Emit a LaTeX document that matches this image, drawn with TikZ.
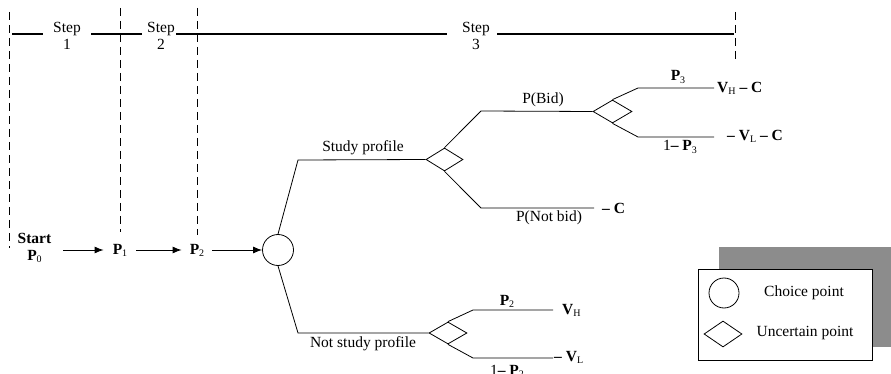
\documentclass[tikz,border=0pt]{standalone}
\usepackage{fontspec}
\setmainfont{Liberation Serif}
\usetikzlibrary{shapes.geometric,arrows.meta}
% small upright subscript used after bold letters
\newcommand{\lsub}[1]{\raisebox{-0.3ex}{\fontsize{10}{10}\selectfont\mdseries #1}}
\begin{document}
\begin{tikzpicture}[x=1pt,y=-1pt,
  txt/.style={font=\fontsize{15.5}{17}\selectfont, inner sep=0pt, align=center},
  bf/.style={txt, font=\fontsize{15.5}{17}\selectfont\bfseries},
  branch/.style={line width=0.8pt},
  guide/.style={line width=0.8pt, dash pattern=on 8pt off 5pt},
  stepline/.style={line width=1.2pt},
  flow/.style={line width=0.9pt, -{Latex[length=9pt,width=7pt]}},
  choice/.style={circle, draw, line width=0.8pt, minimum size=31pt, inner sep=0pt},
  chance/.style={diamond, draw, line width=0.8pt, inner sep=0pt, aspect=1.6,
    minimum width=37pt, minimum height=23pt}]
\useasboundingbox (0,0) rectangle (891,374);

% stage boundaries
\draw[guide] (9,12) -- (9,248);
\draw[guide] (120,8) -- (120,232);
\draw[guide] (197,8) -- (197,235);
\draw[guide] (735,12) -- (735,62);

% stage headings
\node[txt] (s1) at (67,35.5) {Step\\1};
\node[txt] (s2) at (161,35.5) {Step\\2};
\node[txt] (s3) at (476,35.5) {Step\\3};
\draw[stepline] (12,34) -- (43,34);
\draw[stepline] (91,34) -- (142,34);
\draw[stepline] (176,34) -- (447,34);
\draw[stepline] (497,34) -- (734,34);

% preliminary steps
\node[bf] (start) at (34.5,248) {Start\\P\lsub{0}};
\node[bf] (p1) at (120,250) {P\lsub{1}};
\node[bf] (p2) at (197,250) {P\lsub{2}};
\node[choice] (ch) at (278,250) {};
\draw[flow, shorten >=9pt] (63,250) -- (p1.west);
\draw[flow, shorten <=9pt, shorten >=8pt] (p1.east) -- (p2.west);
\draw[flow, shorten <=8pt] (p2.east) -- (ch.west);

% study profile branch
\coordinate (u1) at (298,160);
\node[chance] (d1) at (444.5,159.5) {};
\draw[branch] (ch.north) -- (u1) -- (d1.west);
\node[txt] (study) at (363,148) {Study profile};

\coordinate (b1) at (481,111);
\node[chance, minimum width=39pt] (d2) at (612.5,111.5) {};
\draw[branch] (d1.north) -- (b1) -- (d2.west);
\node[txt] (pbid) at (543,100) {P(Bid)};

\coordinate (n1) at (481,208);
\coordinate (n2) at (594,208);
\draw[branch] (d1.south) -- (n1) -- (n2);
\node[txt] (pnot) at (549,218) {P(Not bid)};
\node[bf, anchor=west] (costC) at (602,208) {-- C};

\coordinate (h1) at (638,88);
\coordinate (h2) at (714,88);
\draw[branch] (d2.north) -- (h1) -- (h2);
\node[bf] (p3) at (678,77) {P\lsub{3}};
\node[bf, anchor=west] (vhc) at (717,88) {V\lsub{H} -- C};

\coordinate (l1) at (638,137);
\coordinate (l2) at (714,137);
\draw[branch] (d2.south) -- (l1) -- (l2);
\node[txt] (q3) at (680,147) {1\textbf{-- P}\lsub{3}};
\node[bf, anchor=west] (vlc) at (727,136) {-- V\lsub{L} -- C};

% no study branch
\coordinate (u2) at (298,333);
\node[chance, minimum width=38pt, minimum height=22pt] (d3) at (448,333) {};
\draw[branch] (ch.south) -- (u2) -- (d3.west);
\node[txt, anchor=north] (nostudy) at (363,336) {Not study profile};

\coordinate (a1) at (473,310);
\coordinate (a2) at (553,310);
\draw[branch] (d3.north) -- (a1) -- (a2);
\node[bf] (pp2) at (507,301) {P\lsub{2}};
\node[bf, anchor=west] (vh) at (562,310) {V\lsub{H}};

\coordinate (c1) at (473,358);
\coordinate (c2) at (553,358);
\draw[branch] (d3.south) -- (c1) -- (c2);
\node[txt] (qq2) at (507,371) {1\textbf{-- P}\lsub{2}};
\node[bf, anchor=west] (vl) at (554,357) {-- V\lsub{L}};

% legend
\fill[black!45] (719,247) rectangle (891,347);
\node[draw, fill=white, line width=0.8pt, minimum width=174pt, minimum height=91pt,
  inner sep=0pt] (legend) at (785,314.5) {};
\node[choice, minimum size=30pt] (lc) at (724,293) {};
\node[txt] (lct) at (804,293) {Choice point};
\node[chance, minimum width=38pt, minimum height=26pt] (ld) at (723,334) {};
\node[txt] (ldt) at (805,333) {Uncertain point};
\end{tikzpicture}
\end{document}
